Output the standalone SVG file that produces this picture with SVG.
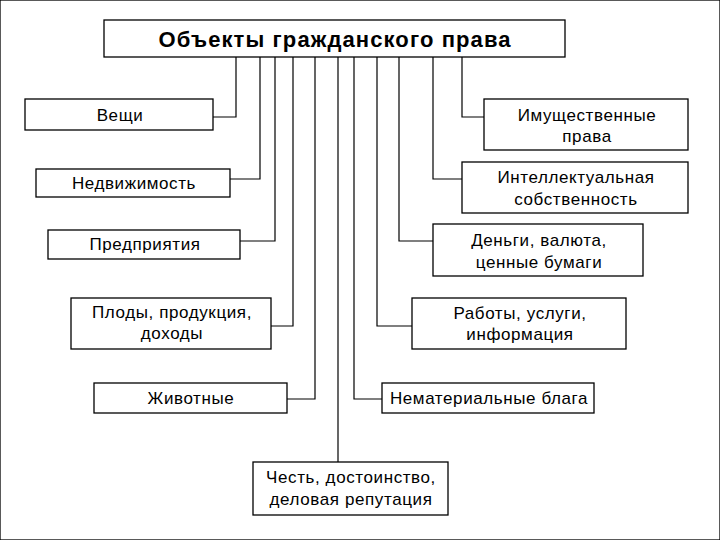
<svg xmlns="http://www.w3.org/2000/svg" width="720" height="540" viewBox="0 0 720 540">
<style>
rect{fill:#fff;stroke:#000;stroke-width:1.3}
text{font-family:"Liberation Sans",Arial,sans-serif;font-size:17px;letter-spacing:0.6px;fill:#000;text-anchor:middle}
.t{font-size:22px;font-weight:bold;letter-spacing:1.1px}
#connectors path{fill:none;stroke:#000;stroke-width:1.2}
</style>
<rect width="720" height="540" fill="#fff" stroke="none"/>
<g id="connectors">
<path d="M236,57V117H213"/>
<path d="M260,57V179H230"/>
<path d="M275,57V241H240"/>
<path d="M293,57V326H271"/>
<path d="M315,57V399H287"/>
<path d="M338,57V462"/>
<path d="M354,57V399H382"/>
<path d="M377,57V326H412"/>
<path d="M399,57V241H433"/>
<path d="M433,57V179H462"/>
<path d="M462,57V117H484"/>
</g>
<g id="root"><rect x="104" y="20" width="461" height="37"/><text class="t" x="335" y="47">Объекты гражданского права</text></g>
<g id="veshchi"><rect x="25" y="99" width="188" height="31"/><text x="120" y="121">Вещи</text></g>
<g id="nedvizh"><rect x="36" y="169" width="194" height="28"/><text x="134" y="189">Недвижимость</text></g>
<g id="predpr"><rect x="48" y="230" width="192" height="29"/><text x="145" y="250">Предприятия</text></g>
<g id="plody"><rect x="71" y="298" width="200" height="51"/><text x="172" y="318">Плоды, продукция,</text><text x="172" y="339">доходы</text></g>
<g id="zhivot"><rect x="94" y="383" width="193" height="30"/><text x="191" y="404">Животные</text></g>
<g id="chest"><rect x="253" y="462" width="195" height="53"/><text x="351" y="483">Честь, достоинство,</text><text x="351" y="505">деловая репутация</text></g>
<g id="imush"><rect x="484" y="99" width="204" height="51"/><text x="587" y="121">Имущественные</text><text x="587" y="142">права</text></g>
<g id="intel"><rect x="462" y="162" width="226" height="51"/><text x="576" y="183">Интеллектуальная</text><text x="576" y="205">собственность</text></g>
<g id="dengi"><rect x="433" y="224" width="210" height="52"/><text x="539" y="246">Деньги, валюта,</text><text x="539" y="268">ценные бумаги</text></g>
<g id="raboty"><rect x="412" y="298" width="214" height="51"/><text x="520" y="319">Работы, услуги,</text><text x="520" y="340">информация</text></g>
<g id="nemat"><rect x="382" y="383" width="212" height="30"/><text x="489" y="404">Нематериальные блага</text></g>
</svg>
